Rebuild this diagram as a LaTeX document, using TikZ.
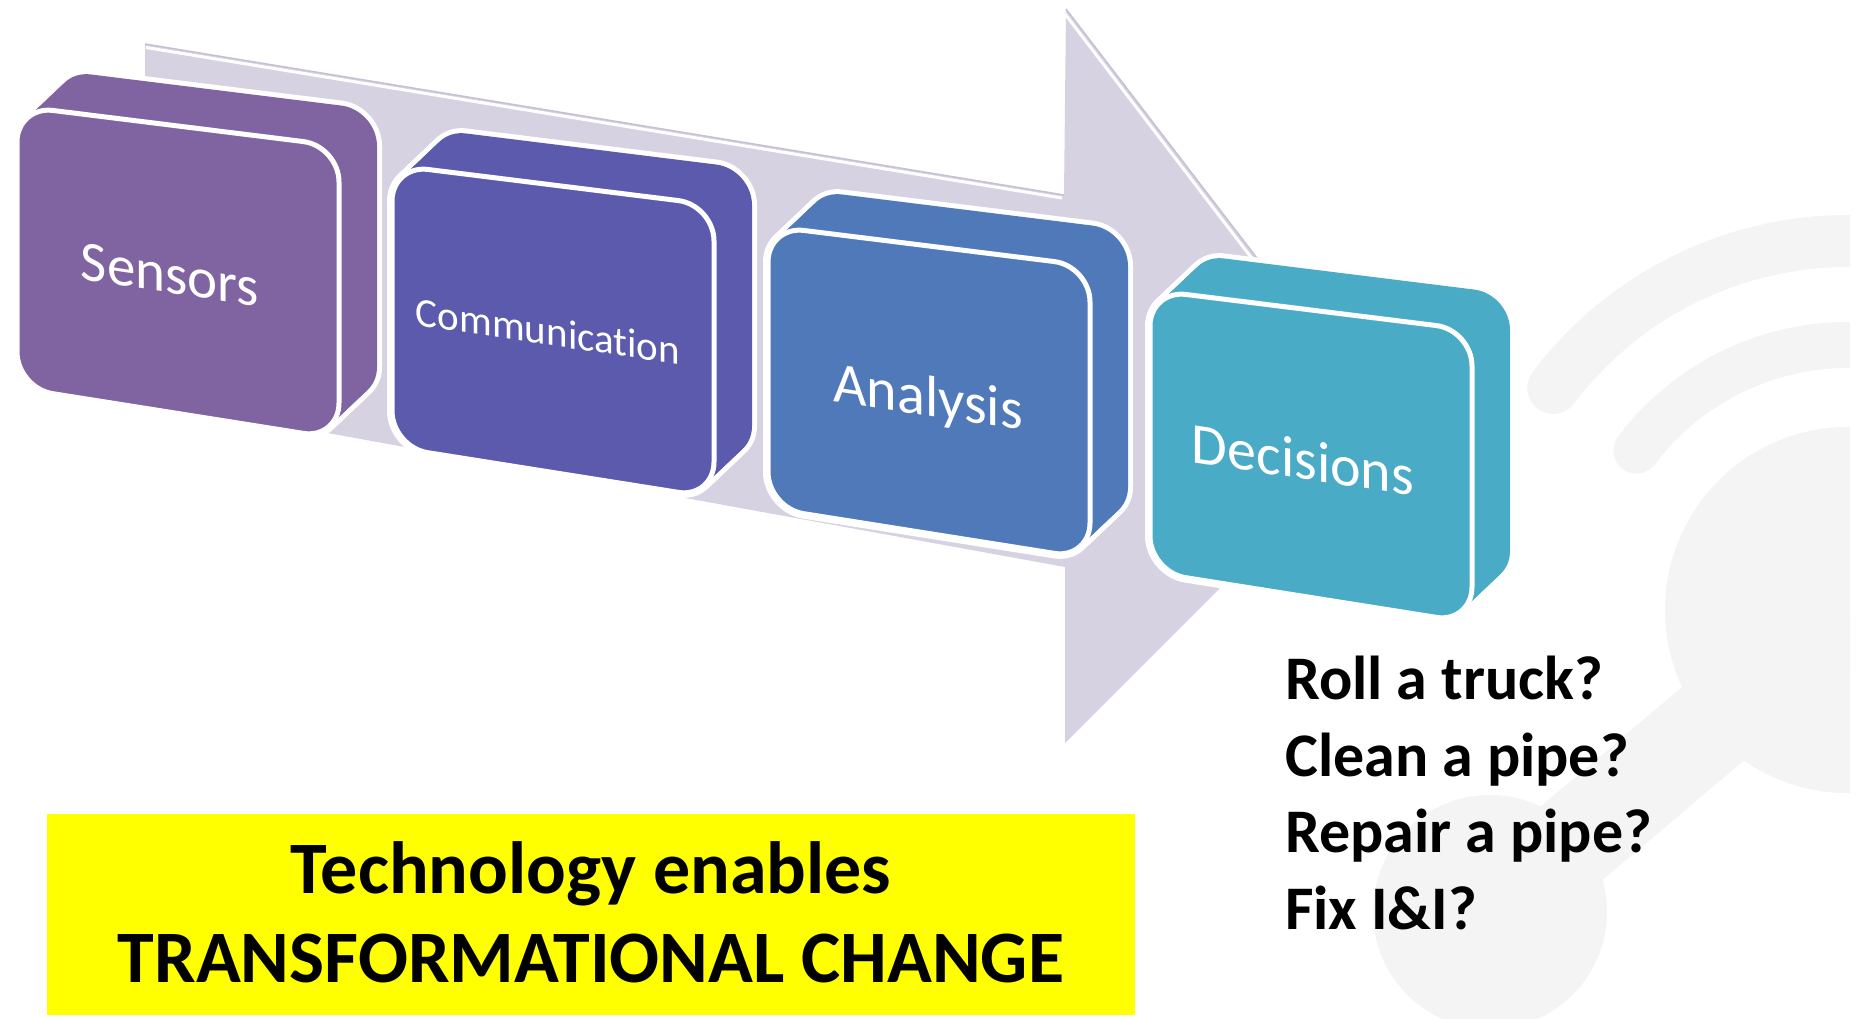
\documentclass[tikz,border=0pt]{standalone}
\usepackage{fontspec}
\setmainfont{Carlito}[Ligatures=NoCommon]
\begin{document}
\begin{tikzpicture}[x=1pt,y=1pt]
\definecolor{arrowfill}{HTML}{D7D2E2}
\definecolor{arrowedge}{HTML}{C6C0D4}
\definecolor{sensorsc}{HTML}{8064A2}
\definecolor{commc}{HTML}{5B5AAD}
\definecolor{analysisc}{HTML}{5079BA}
\definecolor{decisionc}{HTML}{49ABC5}
\definecolor{markgray}{HTML}{F4F4F4}
\definecolor{banner}{HTML}{FFFF00}
\tikzset{
  boxlabel/.style={text=white, anchor=base, inner sep=0pt, yslant=-0.15},
  question/.style={anchor=base west, inner sep=0pt, font=\bfseries\fontsize{62}{74}\selectfont},
  slogan/.style={anchor=base, inner sep=0pt, font=\bfseries\fontsize{74}{88}\selectfont}
}
% one face of a block: left x, top y (measured downwards), path options
\newcommand{\faceat}[3]{%
  \path[#3] (#1,{-(#2)}) -- ({#1+322},{-(#2)-40}) -- ({#1+322},{-(#2)-333}) -- (#1,{-(#2)-282}) -- cycle;}
% an extruded block with a white rim
\newcommand{\solidblock}[3]{%
  \foreach \k in {0,...,12}{%
    \pgfmathsetmacro{\bx}{#1+38*\k/12}%
    \pgfmathsetmacro{\by}{#2-36*\k/12}%
    \faceat{\bx}{\by}{draw=white, line width=10, rounded corners=36}}
  \foreach \k in {0,...,12}{%
    \pgfmathsetmacro{\bx}{#1+38*\k/12}%
    \pgfmathsetmacro{\by}{#2-36*\k/12}%
    \faceat{\bx}{\by}{fill=#3, rounded corners=36}}
  \faceat{#1}{#2}{fill=#3, draw=white, line width=5, rounded corners=36}}

\useasboundingbox (0,0) rectangle (1860,-1019);
\fill[white] (0,0) rectangle (1860,-1019);

% faint wireless-sensor emblem in the background
\begin{scope}
  \clip (0,0) rectangle (1850,-1019);
  \fill[markgray] (1848,-610) circle[radius=183];
  \fill[markgray] (1490,-912) circle[radius=117];
  \draw[markgray, line width=96] (1848,-610) -- (1490,-912);
  \draw[markgray, line width=46, line cap=round]
    ([shift={(143:265)}]1848,-610) arc[start angle=143, end angle=85, radius=265];
  \draw[markgray, line width=52, line cap=round]
    ([shift={(143:369)}]1848,-610) arc[start angle=143, end angle=85, radius=369];
\end{scope}

% large process arrow
\fill[arrowfill] (145,-44) -- (1064,-195) -- (1066,-9) -- (1384,-424)
  -- (1065,-743) -- (1065,-567) -- (300,-428) -- (145,-200) -- cycle;
\draw[arrowedge, line width=1.5] (145,-44) -- (1064,-195);
\draw[arrowedge, line width=1.5] (1066,-9) -- (1384,-424);
\draw[white, line width=3] (146,-47.5) -- (1062,-198);
\draw[white, line width=3] (1065,-14) -- (1380,-426);

% the four steps
\solidblock{17}{106}{sensorsc}
\solidblock{392}{165}{commc}
\solidblock{768}{226}{analysisc}
\solidblock{1150}{290}{decisionc}

\node[boxlabel, font=\fontsize{57}{60}\selectfont] (sensors) at (170,-293) {Sensors};
\node[boxlabel, font=\fontsize{41}{44}\selectfont] (communication) at (548,-345) {Communication};
\node[boxlabel, font=\fontsize{58}{60}\selectfont] (analysis) at (928,-416) {Analysis};
\node[boxlabel, font=\fontsize{58}{60}\selectfont] (decisions) at (1303,-479) {Decisions};

% questions beside the last step
\node[question] (q1) at (1285,-699) {Roll a truck?};
\node[question] (q2) at (1285,-776) {Clean a pipe?};
\node[question] (q3) at (1285,-852) {Repair a pipe?};
\node[question] (q4) at (1285,-929) {Fix I\&I?};

% highlighted message
\fill[banner] (47,-814) rectangle (1135,-1015);
\node[slogan] (line1) at (591,-893) {Technology enables};
\node[slogan] (line2) at (591,-982) {TRANSFORMATIONAL CHANGE};
\end{tikzpicture}
\end{document}
